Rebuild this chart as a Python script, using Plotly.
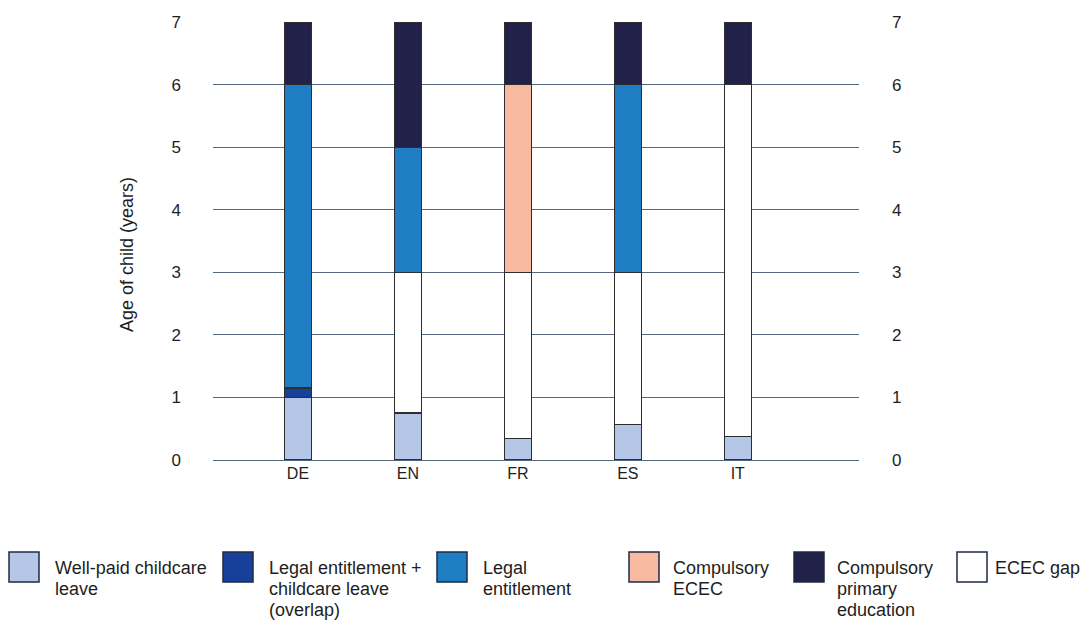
import plotly.graph_objects as go

countries = ["DE", "EN", "FR", "ES", "IT"]
well_paid_leave = [1.0, 0.75, 0.34, 0.57, 0.37]
overlap = [0.15, 0.0, 0.0, 0.0, 0.0]
ecec_gap = [0.0, 2.25, 2.66, 2.43, 5.63]
legal_entitlement = [4.85, 2.0, 0.0, 3.0, 0.0]
compulsory_ecec = [0.0, 0.0, 3.0, 0.0, 0.0]
compulsory_primary = [1.0, 2.0, 1.0, 1.0, 1.0]
y_ticks = [0, 1, 2, 3, 4, 5, 6, 7]

series = [
    ("Well-paid childcare<br>leave", well_paid_leave, "#b4c7e7"),
    ("Legal entitlement +<br>childcare leave<br>(overlap)", overlap, "#17409a"),
    ("ECEC gap", ecec_gap, "#ffffff"),
    ("Legal<br>entitlement", legal_entitlement, "#1f7ec3"),
    ("Compulsory<br>ECEC", compulsory_ecec, "#f7b9a0"),
    ("Compulsory<br>primary<br>education", compulsory_primary, "#22214a"),
]

FONT = "Liberation Sans, Arial, sans-serif"
TXT = "#1e1e1e"
xpos = list(range(len(countries)))

fig = go.Figure()
for name, vals, color in series:
    fig.add_trace(go.Bar(
        x=xpos, y=vals, name=name.replace("<br>", " "), width=0.248,
        marker=dict(color=color, line=dict(color="#2e2e2e", width=1.2)),
        showlegend=False,
    ))

# invisible trace to activate right axis
fig.add_trace(go.Scatter(x=[xpos[0]], y=[0], yaxis="y2", mode="markers",
                         marker=dict(opacity=0), showlegend=False, hoverinfo="skip"))

L, R, T, B = 213, 859, 22, 460
W, H = R - L, B - T

fig.update_layout(
    width=1090, height=622,
    margin=dict(l=L, r=1090 - R, t=T, b=622 - B),
    barmode="stack",
    plot_bgcolor="white", paper_bgcolor="white",
    font=dict(family=FONT, size=17, color=TXT),
    xaxis=dict(range=[-0.773, 5.103], tickvals=xpos, ticktext=countries,
               showgrid=False, zeroline=False, showline=False,
               tickfont=dict(size=16), ticks="", ticklabelstandoff=2),
    yaxis=dict(range=[0, 7], tickvals=y_ticks, showgrid=True, gridcolor="#55667f",
               gridwidth=1, zeroline=True, zerolinecolor="#55667f", zerolinewidth=1,
               showline=False, ticks="", ticklabelstandoff=31,
               tickfont=dict(size=17)),
    yaxis2=dict(range=[0, 7], tickvals=y_ticks, overlaying="y", side="right",
                showgrid=False, zeroline=False, showline=False, ticks="",
                ticklabelstandoff=32, tickfont=dict(size=17)),
)


def px_x(v):
    return (v - L) / W


def px_y(v):
    return (B - v) / H


annotations = [dict(xref="paper", yref="paper", x=px_x(127), y=px_y(255),
                    xanchor="center", yanchor="middle", textangle=-90,
                    text="Age of child (years)", showarrow=False,
                    font=dict(size=18, color=TXT))]

# manual legend (order as in reference)
legend_items = [
    (series[0], 9, 53),
    (series[1], 223, 267),
    (series[3], 437, 481),
    (series[4], 629, 671),
    (series[5], 794, 835),
    (series[2], 957, 993),
]
shapes = []
for (name, _, color), sx, tx in legend_items:
    shapes.append(dict(type="rect", xref="paper", yref="paper",
                       x0=px_x(sx), x1=px_x(sx + 30),
                       y0=px_y(582), y1=px_y(552),
                       fillcolor=color, line=dict(color="#1f2a44", width=1.5)))
    for i, line in enumerate(name.split("<br>")):
        annotations.append(dict(xref="paper", yref="paper", x=px_x(tx),
                                y=px_y(568 + 21 * i), xanchor="left", yanchor="middle",
                                text=line, showarrow=False, align="left",
                                font=dict(size=18, color=TXT)))
fig.update_layout(shapes=shapes, annotations=annotations)

fig.write_html("out.html")
